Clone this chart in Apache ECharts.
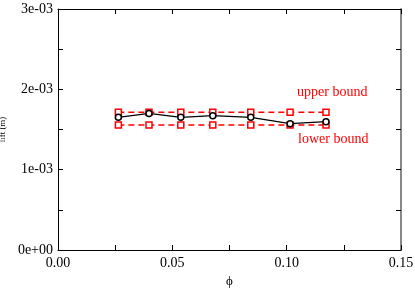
<!DOCTYPE html>
<html><head><meta charset="utf-8">
<script src="https://cdn.jsdelivr.net/npm/echarts@6/dist/echarts.min.js"></script>
<style>html,body{margin:0;padding:0;background:#fff}#c{width:415px;height:288px}</style>
</head><body><div id="c"></div>
<script>
var phi = [0.0264, 0.0398, 0.0537, 0.0677, 0.0843, 0.1015, 0.1172];
var lift = [1.652e-3, 1.700e-3, 1.652e-3, 1.672e-3, 1.652e-3, 1.572e-3, 1.598e-3];
var upperBound = [1.715e-3, 1.715e-3, 1.715e-3, 1.715e-3, 1.715e-3, 1.715e-3, 1.715e-3];
var lowerBound = [1.556e-3, 1.556e-3, 1.556e-3, 1.556e-3, 1.556e-3, 1.556e-3, 1.556e-3];
var xTicks = ['0.00', '0.05', '0.10', '0.15'];
var yTicks = ['0e+00', '1e-03', '2e-03', '3e-03'];

function pairs(ys){ return phi.map(function(x,i){ return [x, ys[i]]; }); }
var font = "'Liberation Serif', 'Times New Roman', serif";
function xFmt(v){ var r = v/0.05, i = Math.round(r); return (Math.abs(r-i) < 1e-6 && xTicks[i] !== undefined) ? xTicks[i] : ''; }
function yFmt(v){ var r = v/1e-3, i = Math.round(r); return (Math.abs(r-i) < 1e-6 && yTicks[i] !== undefined) ? yTicks[i] : ''; }

var tick = {show:true, inside:true, length:5, lineStyle:{color:'#000', width:1}};
function line(c, w){ return {show:true, onZero:false, lineStyle:{color:c, width:w}}; }

var chart = echarts.init(document.getElementById('c'), null, {renderer:'canvas'});
chart.setOption({
  animation:false,
  backgroundColor:'#fff',
  grid:{left:58, right:14, top:9, bottom:38, outerBoundsMode:'none', containLabel:false},
  xAxis:[{
    type:'value', min:0, max:0.15, interval:0.025, position:'bottom',
    axisLine:line('#000',1), axisTick:tick, splitLine:{show:false},
    axisLabel:{formatter:xFmt, color:'#000', fontFamily:font, fontSize:14, margin:6, showMinLabel:true, showMaxLabel:true},
    name:'ϕ', nameLocation:'middle', nameGap:24, nameTextStyle:{fontFamily:font, fontSize:13, color:'#000'}
  },{
    type:'value', min:0, max:0.15, interval:0.025, position:'top',
    axisLine:line('#000',1), axisTick:tick, splitLine:{show:false},
    axisLabel:{show:false}
  }],
  yAxis:[{
    type:'value', min:0, max:3e-3, interval:0.5e-3, position:'left',
    axisLine:line('#000',1), axisTick:tick, splitLine:{show:false},
    axisLabel:{formatter:yFmt, color:'#000', fontFamily:font, fontSize:14, margin:5, showMinLabel:true, showMaxLabel:true},
    name:'lift (m)', nameLocation:'middle', nameGap:50, nameRotate:90,
    nameTextStyle:{fontFamily:font, fontSize:9, color:'#000'}
  },{
    type:'value', min:0, max:3e-3, interval:0.5e-3, position:'right',
    axisLine:line('#888',2), axisTick:tick, splitLine:{show:false},
    axisLabel:{show:false}
  }],
  series:[{
    type:'line', name:'upper bound', data:pairs(upperBound),
    symbol:'rect', symbolSize:6, showAllSymbol:true,
    lineStyle:{color:'#ff0000', width:1.5, type:[6,4]},
    itemStyle:{color:'#fff', borderColor:'#ff0000', borderWidth:1.5}
  },{
    type:'line', name:'lower bound', data:pairs(lowerBound),
    symbol:'rect', symbolSize:6, showAllSymbol:true,
    lineStyle:{color:'#ff0000', width:1.5, type:[6,4]},
    itemStyle:{color:'#fff', borderColor:'#ff0000', borderWidth:1.5}
  },{
    type:'line', name:'lift', data:pairs(lift),
    symbol:'circle', symbolSize:6, showAllSymbol:true,
    lineStyle:{color:'#000', width:1.2},
    itemStyle:{color:'#fff', borderColor:'#000', borderWidth:1.5}
  }],
  graphic:[{
    type:'text', left:297, top:85,
    style:{text:'upper bound', fill:'#ff0000', font:'14px ' + font}
  },{
    type:'text', left:298, top:132,
    style:{text:'lower bound', fill:'#ff0000', font:'14px ' + font}
  }]
});
</script></body></html>
